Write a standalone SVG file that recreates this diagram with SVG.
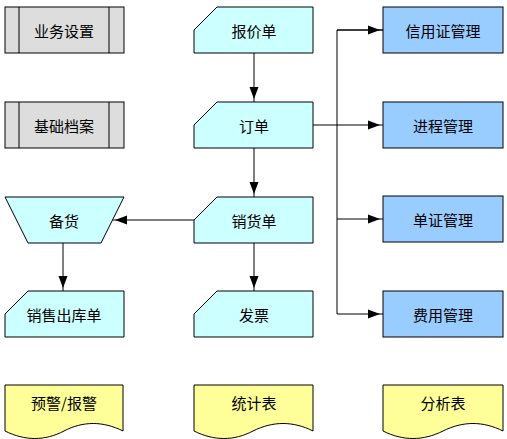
<svg xmlns="http://www.w3.org/2000/svg" width="507" height="439" viewBox="0 0 507 439">
<style>
.s{stroke:#000;stroke-width:1;}
.gray{fill:#dddddd;}
.cyan{fill:#ccffff;}
.blue{fill:#99ccff;}
.yellow{fill:#ffff99;}
text{font-family:"Noto Sans CJK SC","Liberation Sans",sans-serif;font-size:15px;text-anchor:middle;dominant-baseline:central;fill:#000;}
.c{fill:none;stroke:#000;stroke-width:1;}
</style>
<defs>
<marker id="ah" markerUnits="userSpaceOnUse" viewBox="0 0 15 10" markerWidth="15" markerHeight="10" refX="15" refY="5" orient="auto">
<path d="M0,0.5 L12,5 L0,9.5 Z" fill="#000"/>
</marker>
</defs>
<rect width="507" height="439" fill="#fff"/>

<g id="connectors">
<line class="c" x1="254" y1="53" x2="254" y2="102" marker-end="url(#ah)"/>
<line class="c" x1="254" y1="148" x2="254" y2="197" marker-end="url(#ah)"/>
<line class="c" x1="254" y1="243" x2="254" y2="291" marker-end="url(#ah)"/>
<line class="c" x1="194" y1="220" x2="112" y2="220" marker-end="url(#ah)"/>
<line class="c" x1="63" y1="243" x2="63" y2="291" marker-end="url(#ah)"/>
<line class="c" x1="313" y1="125" x2="383" y2="125" marker-end="url(#ah)"/>
<polyline class="c" points="383,30 337,30 337,314 383,314" marker-end="url(#ah)"/>
<line class="c" x1="337" y1="30" x2="383" y2="30" marker-end="url(#ah)"/>
<line class="c" x1="337" y1="219" x2="383" y2="219" marker-end="url(#ah)"/>
</g>

<g id="n_yewu">
<rect class="s gray" x="5" y="7" width="119" height="46"/>
<line class="s" x1="19" y1="7" x2="19" y2="53"/>
<line class="s" x1="109" y1="7" x2="109" y2="53"/>
<text x="64" y="30">业务设置</text>
</g>
<g id="n_jichu">
<rect class="s gray" x="5" y="102" width="119" height="46"/>
<line class="s" x1="19" y1="102" x2="19" y2="148"/>
<line class="s" x1="109" y1="102" x2="109" y2="148"/>
<text x="64" y="125">基础档案</text>
</g>
<g id="n_beihuo">
<polygon class="s cyan" points="5,197 124,197 101,243 28,243"/>
<text x="64" y="220">备货</text>
</g>
<g id="n_xiaoshouchuku">
<polygon class="s cyan" points="28,291 124,291 124,337 5,337 5,314"/>
<text x="64" y="314">销售出库单</text>
</g>
<g id="n_yujing">
<path class="s yellow" d="M5,385 H123 V431 C103,421 83,421 64,431 C45,441 25,441 5,431 Z"/>
<text x="64" y="402">预警/报警</text>
</g>

<g id="n_baojia">
<polygon class="s cyan" points="217,7 313,7 313,53 194,53 194,30"/>
<text x="254" y="30">报价单</text>
</g>
<g id="n_dingdan">
<polygon class="s cyan" points="217,102 313,102 313,148 194,148 194,125"/>
<text x="254" y="125">订单</text>
</g>
<g id="n_xiaohuo">
<polygon class="s cyan" points="217,197 313,197 313,243 194,243 194,220"/>
<text x="254" y="220">销货单</text>
</g>
<g id="n_fapiao">
<polygon class="s cyan" points="217,291 313,291 313,337 194,337 194,314"/>
<text x="254" y="314">发票</text>
</g>
<g id="n_tongji">
<path class="s yellow" d="M194,385 H313 V431 C293,421 273,421 253,431 C234,441 214,441 194,431 Z"/>
<text x="254" y="402">统计表</text>
</g>

<g id="n_xinyong">
<rect class="s blue" x="383" y="7" width="120" height="46"/>
<text x="443" y="30">信用证管理</text>
</g>
<g id="n_jincheng">
<rect class="s blue" x="383" y="102" width="120" height="46"/>
<text x="443" y="125">进程管理</text>
</g>
<g id="n_danzheng">
<rect class="s blue" x="383" y="196" width="120" height="46"/>
<text x="443" y="219">单证管理</text>
</g>
<g id="n_feiyong">
<rect class="s blue" x="383" y="291" width="120" height="46"/>
<text x="443" y="314">费用管理</text>
</g>
<g id="n_fenxi">
<path class="s yellow" d="M383,385 H503 V431 C483,421 463,421 443,431 C423,441 403,441 383,431 Z"/>
<text x="443" y="402">分析表</text>
</g>
</svg>
